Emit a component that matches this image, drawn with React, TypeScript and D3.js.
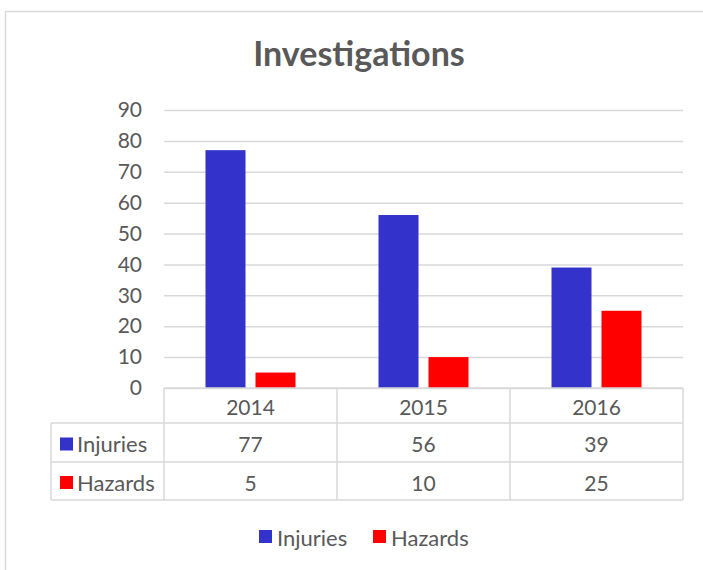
import React, { useEffect, useRef } from 'react';
import * as d3 from 'd3';

const years = ['2014', '2015', '2016'];
const seriesNames = ['Injuries', 'Hazards'];
const injuries = [77, 56, 39];
const hazards = [5, 10, 25];
const yTicks = [0, 10, 20, 30, 40, 50, 60, 70, 80, 90];
const colors = ['#3333CC', '#FF0000'];

const FONT = 'Lato, "Open Sans", sans-serif';
const TEXT = '#595959';
const GRID = '#D9D9D9';

const App = () => {
  const svgRef = useRef<SVGSVGElement>(null);

  useEffect(() => {
    const svg = d3.select(svgRef.current);
    svg.selectAll('*').remove();

    const values = [injuries, hazards];
    const left = 164, right = 683, top = 110, bottom = 388;
    const rowH = [388, 423, 462, 500];
    const labelLeft = 51;

    // outer chart frame
    svg.append('rect')
      .attr('x', 5.5).attr('y', 11.5)
      .attr('width', 760).attr('height', 640)
      .attr('fill', 'white').attr('stroke', GRID).attr('stroke-width', 1.5);

    svg.append('text')
      .attr('x', 359).attr('y', 66)
      .attr('text-anchor', 'middle')
      .attr('font-family', FONT).attr('font-weight', 'bold')
      .attr('font-size', 34).attr('fill', TEXT)
      .text('Investigations');

    const x = d3.scaleBand().domain(years).range([left, right]);
    const xs = d3.scaleBand().domain(seriesNames).range([0, x.bandwidth()])
      .paddingInner(0.2).paddingOuter(0.83);
    const y = d3.scaleLinear().domain([0, 90]).range([bottom, top]);

    // gridlines + y labels
    const ga = svg.append('g').attr('transform', `translate(${left},0)`)
      .call(d3.axisLeft(y).tickValues(yTicks).tickSize(-(right - left)).tickPadding(22));
    ga.select('.domain').remove();
    ga.selectAll('line').attr('stroke', GRID).attr('stroke-width', 1.5);
    ga.selectAll('text').attr('font-family', FONT).attr('font-size', 21).attr('fill', TEXT);

    // bars
    seriesNames.forEach((s, si) => {
      svg.append('g').selectAll('rect')
        .data(values[si])
        .join('rect')
        .attr('x', (d, i) => x(years[i])! + xs(s)!)
        .attr('y', d => y(d))
        .attr('width', xs.bandwidth())
        .attr('height', d => y(0) - y(d))
        .attr('fill', colors[si]);
    });

    // data table lines
    const tl = svg.append('g').attr('stroke', GRID).attr('stroke-width', 1.5);
    tl.append('line').attr('x1', left).attr('x2', right).attr('y1', rowH[0]).attr('y2', rowH[0]);
    rowH.slice(1).forEach(r => {
      tl.append('line').attr('x1', labelLeft).attr('x2', right).attr('y1', r).attr('y2', r);
    });
    tl.append('line').attr('x1', labelLeft).attr('x2', labelLeft).attr('y1', rowH[1]).attr('y2', rowH[3]);
    [left, ...years.map(yr => x(yr)! + x.bandwidth())].forEach(vx => {
      tl.append('line').attr('x1', vx).attr('x2', vx).attr('y1', rowH[0]).attr('y2', rowH[3]);
    });

    const txt = (g: any, tx: number, ty: number, t: string, anchor = 'middle', size = 21) =>
      g.append('text').attr('x', tx).attr('y', ty).attr('text-anchor', anchor)
        .attr('dominant-baseline', 'central')
        .attr('font-family', FONT).attr('font-size', size).attr('fill', TEXT).text(t);

    years.forEach(yr => txt(svg, x(yr)! + x.bandwidth() / 2, (rowH[0] + rowH[1]) / 2 + 1, yr));
    seriesNames.forEach((s, si) => {
      const cy = (rowH[si + 1] + rowH[si + 2]) / 2 + 1;
      svg.append('rect').attr('x', 60).attr('y', cy - 6).attr('width', 13).attr('height', 13).attr('fill', colors[si]);
      txt(svg, 77, cy, s, 'start', 22);
      values[si].forEach((v, i) => txt(svg, x(years[i])! + x.bandwidth() / 2, cy, String(v)));
    });

    // legend
    const lg = svg.append('g');
    const legendX = [259, 373];
    seriesNames.forEach((s, si) => {
      lg.append('rect').attr('x', legendX[si]).attr('y', 530).attr('width', 13).attr('height', 13).attr('fill', colors[si]);
      txt(lg, legendX[si] + 18, 537, s, 'start', 22);
    });
  }, []);

  return (
    <svg ref={svgRef} width={703} height={570}
      style={{ position: 'absolute', left: 0, top: 0, background: 'white' }} />
  );
};

export default App;
